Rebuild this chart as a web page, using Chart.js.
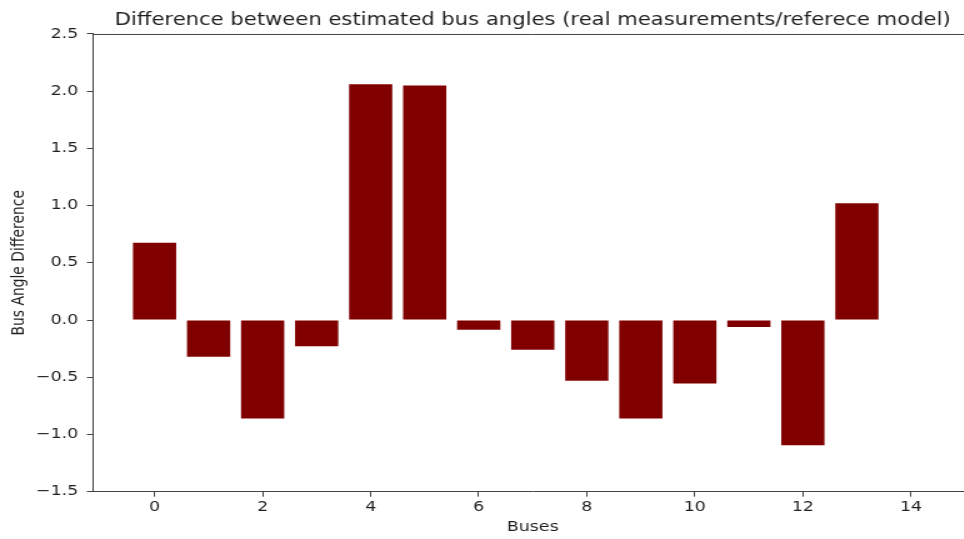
<!DOCTYPE html>
<html>
<head>
<meta charset="utf-8">
<title>Bus angle difference</title>
<style>
  html, body { margin: 0; padding: 0; background: #fff; overflow: hidden; }
  /* the figure is drawn narrower and widened horizontally as a whole */
  #wrap { width: 778px; height: 539px; position: relative; transform: scaleX(1.25); transform-origin: 0 0; }
</style>
<script src="https://cdn.jsdelivr.net/npm/chart.js@4.4.1/dist/chart.umd.min.js"></script>
</head>
<body>
<div id="wrap"><canvas id="chart" width="778" height="539"></canvas></div>
<script>
// Bus indices and estimated angle differences (real measurements vs reference model)
const buses = [0, 1, 2, 3, 4, 5, 6, 7, 8, 9, 10, 11, 12, 13, 14];
const angleDiff = [0.676, -0.32, -0.86, -0.23, 2.06, 2.05, -0.085, -0.26, -0.53, -0.86, -0.555, -0.06, -1.095, 1.02, 0];
const xTicks = [0, 2, 4, 6, 8, 10, 12, 14];
const yTicks = [-1.5, -1.0, -0.5, 0.0, 0.5, 1.0, 1.5, 2.0, 2.5];

const titleText = 'Difference between estimated bus angles (real measurements/referece model)';
const xLabel = 'Buses';
const yLabel = 'Bus Angle Difference';

const spineColor = '#444';
const textColor = '#1f1f1f';

Chart.defaults.font.family = "'DejaVu Sans', sans-serif";
Chart.defaults.color = textColor;

// Frame line along the top of the plot area
const topSpine = {
  id: 'topSpine',
  afterDatasetsDraw(chart) {
    const { ctx, chartArea } = chart;
    ctx.save();
    ctx.strokeStyle = spineColor;
    ctx.lineWidth = 1;
    ctx.beginPath();
    ctx.moveTo(chartArea.left, chartArea.top + 0.5);
    ctx.lineTo(chartArea.right, chartArea.top + 0.5);
    ctx.stroke();
    ctx.restore();
  }
};

const minus = s => s.replace('-', '\u2212');

new Chart(document.getElementById('chart'), {
  type: 'bar',
  data: {
    datasets: [{
      data: buses.map((b, i) => ({ x: b, y: angleDiff[i] })),
      backgroundColor: '#800000',
      borderWidth: 0,
      categoryPercentage: 1.0,
      barPercentage: 0.8
    }]
  },
  options: {
    responsive: false,
    animation: false,
    devicePixelRatio: 1,
    layout: { padding: 0 },
    plugins: {
      legend: { display: false },
      tooltip: { enabled: false },
      title: {
        display: true,
        text: titleText,
        fullSize: false,
        color: textColor,
        font: { size: 16.9, weight: 'normal' },
        padding: { top: 10.5, bottom: 3.2 }
      }
    },
    scales: {
      x: {
        type: 'linear',
        offset: false,
        min: -1.14,
        max: 15.14,
        afterBuildTicks: s => { s.ticks = xTicks.map(v => ({ value: v })); },
        afterFit: s => { s.height = 47.3; },
        grid: { display: true, drawOnChartArea: false, drawTicks: true, tickLength: 5, color: spineColor, offset: false },
        border: { display: true, color: spineColor, width: 1 },
        ticks: { font: { size: 13.9 }, color: textColor, padding: 2, maxRotation: 0, callback: v => String(v) },
        title: { display: true, text: xLabel, font: { size: 13.9 }, color: textColor, padding: { top: 0, bottom: 3.5 } }
      },
      y: {
        min: -1.5,
        max: 2.5,
        afterBuildTicks: s => { s.ticks = yTicks.map(v => ({ value: v })); },
        afterFit: s => { s.width = 74.4; },
        grid: { display: true, drawOnChartArea: false, drawTicks: true, tickLength: 4.9, color: spineColor },
        border: { display: true, color: spineColor, width: 1 },
        ticks: { font: { size: 13.9 }, color: textColor, padding: 7, callback: v => minus(Number(v).toFixed(1)) },
        title: {
          display: true,
          text: yLabel,
          font: { size: 13.9 },
          color: textColor,
          padding: { top: 7.3, bottom: 0 }
        }
      }
    }
  },
  plugins: [topSpine]
});
</script>
</body>
</html>
